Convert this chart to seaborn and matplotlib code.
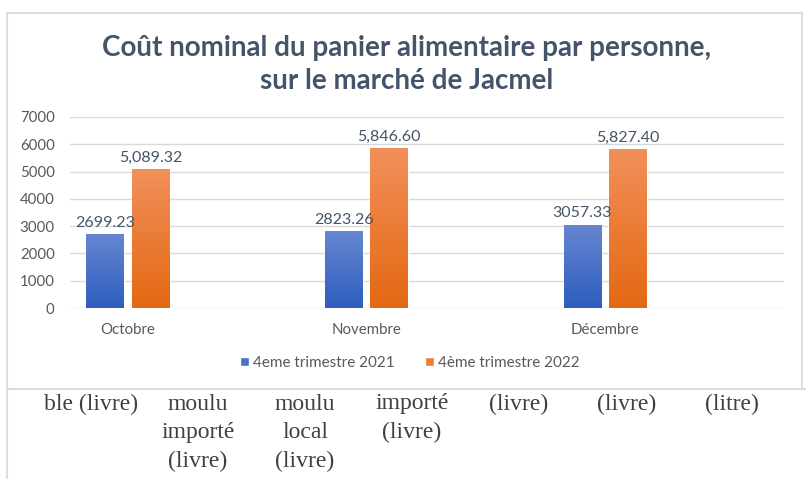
import numpy as np
import pandas as pd
import seaborn as sns
import matplotlib.pyplot as plt
from matplotlib.colors import LinearSegmentedColormap
from matplotlib.lines import Line2D

mois = ['Octobre', 'Novembre', 'Décembre']
series = ['4eme trimestre 2021', '4ème trimestre 2022']
valeurs_2021 = [2699.23, 2823.26, 3057.33]
valeurs_2022 = [5089.32, 5846.60, 5827.40]
yticks = [0, 1000, 2000, 3000, 4000, 5000, 6000, 7000]

# texte du tableau sous le graphique (colonnes, lignes)
tableau = [
    ['ble (livre)'],
    ['moulu', 'importé', '(livre)'],
    ['moulu', 'local', '(livre)'],
    ['importé', '(livre)'],
    ['(livre)'],
    ['(livre)'],
    ['(litre)'],
]
tableau_x = [91, 198, 305, 412, 519, 627, 732]

titre = 'Coût nominal du panier alimentaire par personne,\nsur le marché de Jacmel'

df = pd.DataFrame({
    'Mois': mois * 2,
    'Serie': [series[0]] * 3 + [series[1]] * 3,
    'Valeur': valeurs_2021 + valeurs_2022,
})

sns.set_style('white')
plt.rcParams['font.family'] = ['Lato', 'DejaVu Sans']

W, H = 806, 479
fig = plt.figure(figsize=(W / 100, H / 100), dpi=100)
ax = fig.add_axes([70 / W, 1 - 308 / H, (784 - 70) / W, (308 - 117) / H])

couleurs = ['#4472C4', '#ED7D31']
sns.barplot(data=df, x='Mois', y='Valeur', hue='Serie', palette=couleurs,
            width=0.38, gap=0.17, ax=ax, legend=True, saturation=1)

# dégradés verticaux façon Excel
degrades = [
    LinearSegmentedColormap.from_list('b', ['#2D5DBF', '#6787D0']),
    LinearSegmentedColormap.from_list('o', ['#E36812', '#F2905A']),
]
grad = np.linspace(0, 1, 256).reshape(-1, 1)
for cont, cmap in zip(ax.containers, degrades):
    for bar in cont:
        x0, y0 = bar.get_x(), bar.get_y()
        w, h = bar.get_width(), bar.get_height()
        im = ax.imshow(grad, cmap=cmap, origin='lower', aspect='auto',
                       extent=[x0, x0 + w, y0, y0 + h], zorder=3)
        im.set_clip_path(bar)

ax.bar_label(ax.containers[0], fmt='{:.2f}', padding=3, fontsize=11.5, color='#44546A')
ax.bar_label(ax.containers[1], fmt='{:,.2f}', padding=3, fontsize=11.5, color='#44546A')

ax.set_xlim(-0.243, 2.75)
ax.set_ylim(0, 7000)
ax.set_yticks(yticks)
ax.yaxis.grid(True, color='#D9D9D9', linewidth=1)
ax.set_axisbelow(True)
for s in ax.spines.values():
    s.set_visible(False)
ax.tick_params(axis='both', length=0, labelsize=10.8, colors='#595959', pad=11)
ax.set_xlabel('')
ax.set_ylabel('')

leg = ax.legend(loc='center', bbox_to_anchor=(410 / W, 1 - 363 / H),
                bbox_transform=fig.transFigure, ncol=2, frameon=False,
                fontsize=11, handlelength=0.55, handleheight=0.55,
                handletextpad=0.3, columnspacing=2.0)
for t in leg.get_texts():
    t.set_color('#595959')

fig.text(407 / W, 1 - 64.5 / H, titre, ha='center', va='center', fontsize=20,
         fontweight='bold', color='#44546A', linespacing=1.32)

# cadre du graphique
bord = '#D9DEE6'
fig.add_artist(Line2D([7 / W, 802 / W], [1 - 13 / H, 1 - 13 / H], color=bord, lw=1.5))
fig.add_artist(Line2D([7 / W, 7 / W], [1 - 13 / H, 0], color=bord, lw=1.5))
fig.add_artist(Line2D([802 / W, 802 / W], [1 - 13 / H, 1 - 389 / H], color=bord, lw=1.5))
fig.add_artist(Line2D([7 / W, 806 / W], [1 - 389 / H, 1 - 389 / H], color=bord, lw=1.5))

for x, lignes in zip(tableau_x, tableau):
    for i, ligne in enumerate(lignes):
        fig.text(x / W, 1 - (404 + 28.5 * i) / H, ligne, ha='center', va='center',
                 fontsize=17, family='Liberation Serif', color='#404040')

fig.savefig('out.png', dpi=100)
